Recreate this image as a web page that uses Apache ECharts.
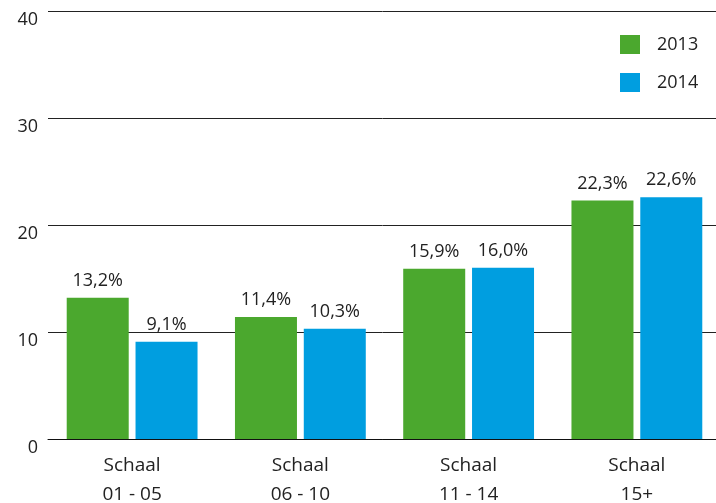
<!DOCTYPE html>
<html>
<head>
<meta charset="utf-8">
<script src="https://cdn.jsdelivr.net/npm/echarts@6/dist/echarts.min.js"></script>
<style>
  html, body { margin: 0; padding: 0; background: #fff; }
  #chart { width: 716px; height: 503px; }
</style>
</head>
<body>
<div id="chart"></div>
<script>
const categories = ["Schaal\n01 - 05", "Schaal\n06 - 10", "Schaal\n11 - 14", "Schaal\n15+"];
const values2013 = [13.2, 11.4, 15.9, 22.3];
const values2014 = [9.1, 10.3, 16.0, 22.6];
const yTicks = [0, 10, 20, 30, 40];

const fontFamily = "'Open Sans', sans-serif";
const textColor = "#222";

function pctLabel(p) {
  return p.value.toFixed(1).replace(".", ",") + "%";
}

const barLabel = {
  show: true,
  position: "top",
  distance: 8,
  color: textColor,
  fontFamily: fontFamily,
  fontSize: 18,
  formatter: pctLabel
};

let myChart = echarts.init(document.getElementById("chart"));
myChart.setOption({
  animation: false,
  grid: {
    left: 48,
    right: -5,
    top: 11,
    bottom: 64,
    containLabel: false,
    outerBoundsMode: "none"
  },
  legend: {
    orient: "vertical",
    left: 620,
    top: 35,
    padding: 0,
    itemWidth: 20,
    itemHeight: 19,
    itemGap: 19,
    icon: "rect",
    textStyle: { color: textColor, fontFamily: fontFamily, fontSize: 18, padding: [0, 0, 0, 12] },
    data: ["2013", "2014"]
  },
  xAxis: {
    type: "category",
    data: categories,
    axisLine: { show: true, lineStyle: { color: "#111", width: 1 } },
    axisTick: { show: false },
    axisLabel: {
      color: textColor,
      fontFamily: fontFamily,
      fontSize: 19,
      lineHeight: 29,
      margin: 12
    }
  },
  yAxis: {
    type: "value",
    min: yTicks[0],
    max: yTicks[yTicks.length - 1],
    interval: 10,
    axisLine: { show: false },
    axisTick: { show: false },
    splitLine: { lineStyle: { color: "#222", width: 1 } },
    axisLabel: {
      color: textColor,
      fontFamily: fontFamily,
      fontSize: 18,
      margin: 10,
      verticalAlign: "top"
    }
  },
  series: [
    {
      name: "2013",
      type: "bar",
      data: values2013,
      barWidth: 62,
      barGap: "11%",
      itemStyle: { color: "#4ba82e" },
      label: barLabel
    },
    {
      name: "2014",
      type: "bar",
      data: values2014,
      barWidth: 62,
      barGap: "11%",
      itemStyle: { color: "#009ee0" },
      label: barLabel
    }
  ]
});
</script>
</body>
</html>
